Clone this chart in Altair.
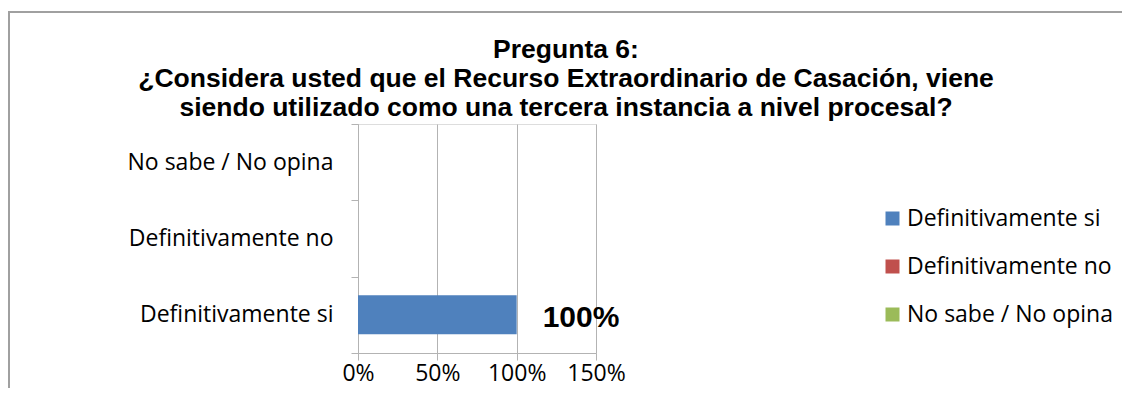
import altair as alt
import pandas as pd

categories = ["Definitivamente si", "Definitivamente no", "No sabe / No opina"]
values = [1.0, 0.0, 0.0]
colors = ["#4F81BD", "#C0504D", "#9BBB59"]
x_ticks = [0, 0.5, 1.0, 1.5]
title_lines = [
    "Pregunta 6:",
    "¿Considera usted que el Recurso Extraordinario de Casación, viene",
    "siendo utilizado como una tercera instancia a nivel procesal?",
]

df = pd.DataFrame({"cat": categories, "val": values})

FONT = "Open Sans"
GRID = "#B3B3B3"
y_order = list(reversed(categories))

y_enc = alt.Y(
    "cat:N",
    sort=y_order,
    scale=alt.Scale(paddingInner=0, paddingOuter=0),
    axis=alt.Axis(
        title=None,
        tickBand="extent",
        grid=False,
        domainColor=GRID,
        tickColor=GRID,
        tickSize=7,
        labelFont=FONT,
        labelFontSize=23,
        labelColor="#000000",
        labelPadding=18,
        labelLimit=400,
    ),
)
x_enc = alt.X(
    "val:Q",
    scale=alt.Scale(domain=[0, 1.5], nice=False),
    axis=alt.Axis(
        title=None,
        values=x_ticks,
        format=".0%",
        grid=True,
        gridColor=GRID,
        domainColor=GRID,
        tickColor=GRID,
        tickSize=7,
        labelFont=FONT,
        labelFontSize=23,
        labelColor="#000000",
        labelPadding=2,
        labelFlush=False,
    ),
)

bars = alt.Chart(df).mark_bar(height={"band": 0.51}).encode(
    x=x_enc,
    y=y_enc,
    color=alt.Color(
        "cat:N",
        scale=alt.Scale(domain=categories, range=colors),
        legend=alt.Legend(
            title=None,
            orient="none",
            legendX=523,
            legendY=83,
            symbolType="square",
            symbolSize=196,
            symbolStrokeWidth=0,
            labelFont=FONT,
            labelFontSize=23,
            labelColor="#000000",
            labelOffset=3,
            labelLimit=400,
            rowPadding=24,
            padding=0,
        ),
    ),
)

labels = alt.Chart(df).transform_filter("datum.val > 0").mark_text(
    align="left", baseline="middle", dx=26, dy=3, font="Liberation Sans",
    fontWeight="bold", fontSize=30, color="#000000",
).encode(
    x=alt.X("val:Q"),
    y=alt.Y("cat:N", sort=y_order),
    text=alt.Text("val:Q", format=".0%"),
)

title = alt.Chart(pd.DataFrame({"t": [0]})).mark_text(
    align="center", baseline="alphabetic", font="Liberation Sans",
    fontWeight="bold", fontSize=26.5, lineHeight=29, color="#000000",
).encode(
    x=alt.value(208), y=alt.value(-66), text=alt.value(title_lines)
)

frame_top = alt.Chart(pd.DataFrame({"t": [0]})).mark_rule(color="#A0A0A0", strokeWidth=2).encode(
    x=alt.value(-350), x2=alt.value(800), y=alt.value(-112)
)
frame_left = alt.Chart(pd.DataFrame({"t": [0]})).mark_rule(color="#A0A0A0", strokeWidth=2).encode(
    x=alt.value(-349), y=alt.value(-113), y2=alt.value(300)
)

chart = alt.layer(bars, labels, title, frame_top, frame_left).properties(
    width=238,
    height=229,
    padding={"left": 350, "top": 116, "right": 526, "bottom": 35},
    autosize=alt.AutoSizeParams(type="none"),
).configure_view(stroke=None).configure(background="white")

chart.save("out.html", embed_options={"renderer": "svg", "actions": False})
